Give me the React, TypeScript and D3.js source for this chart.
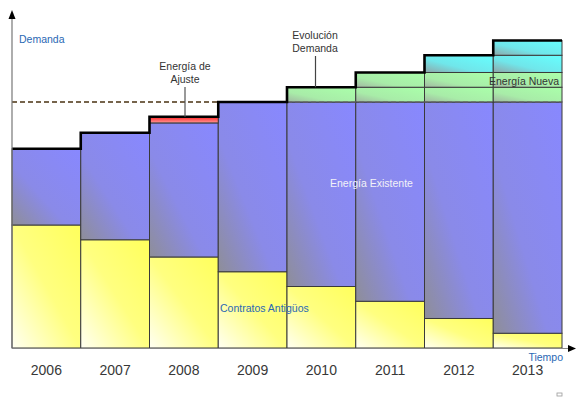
import React from 'react';
import * as d3 from 'd3';

// Datos (unidades relativas, 100 = nivel de energía existente)
const years = ['2006', '2007', '2008', '2009', '2010', '2011', '2012', '2013'];
const contratosAntiguos = [50, 44, 37, 31, 25, 19, 12, 6];
const energiaExistente = [31, 43.5, 54.5, 69, 75, 81, 88, 94];
const energiaAjuste = [0, 0, 2.5, 0, 0, 0, 0, 0];
const nuevaVerde1 = [0, 0, 0, 0, 6, 6, 6, 6];
const nuevaVerde2 = [0, 0, 0, 0, 0, 6, 6, 6];
const nuevaCian1 = [0, 0, 0, 0, 0, 0, 7, 7];
const nuevaCian2 = [0, 0, 0, 0, 0, 0, 0, 6];
const nivelExistente = 100;

const keys = ['contratos', 'existente', 'ajuste', 'verde1', 'verde2', 'cian1', 'cian2'];
const fills: Record<string, string> = {
  contratos: 'url(#g-yellow)',
  existente: 'url(#g-blue)',
  ajuste: 'url(#g-red)',
  verde1: 'url(#g-green)',
  verde2: 'url(#g-green)',
  cian1: 'url(#g-cyan)',
  cian2: 'url(#g-cyan)',
};

const W = 576;
const H = 399;
const left = 12;
const right = 562;
const bottom = 348;

const App = () => {
  const table = years.map((year, i) => ({
    year,
    contratos: contratosAntiguos[i],
    existente: energiaExistente[i],
    ajuste: energiaAjuste[i],
    verde1: nuevaVerde1[i],
    verde2: nuevaVerde2[i],
    cian1: nuevaCian1[i],
    cian2: nuevaCian2[i],
  }));
  const series = d3.stack<any>().keys(keys)(table);

  const x = d3.scaleBand().domain(years).range([left, right]).padding(0);
  const y = d3.scaleLinear().domain([0, 100]).range([bottom, 102]);

  const demanda = table.map((d) => keys.reduce((s, k) => s + (d as any)[k], 0));
  const pts: [number, number][] = years.map((yr, i) => [x(yr)!, y(demanda[i])]);
  pts.push([right, y(demanda[demanda.length - 1])]);
  const stepLine = d3.line().curve(d3.curveStepAfter)(pts) || '';

  const font = '"Liberation Sans", Arial, sans-serif';
  const blueText = '#2a68b4';

  return (
    <div style={{ position: 'fixed', left: 0, top: 0 }}>
      <svg width={W} height={H} style={{ display: 'block', background: '#fff' }}>
        <defs>
          <linearGradient id="g-blue" x1="0" y1="1" x2="1" y2="0">
            <stop offset="0%" stopColor="#8e8e98" />
            <stop offset="40%" stopColor="#8a8ae8" />
            <stop offset="100%" stopColor="#8888ff" />
          </linearGradient>
          <linearGradient id="g-yellow" x1="0" y1="1" x2="1" y2="0">
            <stop offset="0%" stopColor="#fffff2" />
            <stop offset="50%" stopColor="#ffff80" />
            <stop offset="100%" stopColor="#ffff5c" />
          </linearGradient>
          <linearGradient id="g-green" x1="0" y1="1" x2="1" y2="0">
            <stop offset="0%" stopColor="#a2b8a2" />
            <stop offset="35%" stopColor="#a8eca8" />
            <stop offset="100%" stopColor="#aaffaa" />
          </linearGradient>
          <linearGradient id="g-cyan" x1="0" y1="1" x2="1" y2="0">
            <stop offset="0%" stopColor="#8fa6a8" />
            <stop offset="40%" stopColor="#70e6ea" />
            <stop offset="100%" stopColor="#66ffff" />
          </linearGradient>
          <linearGradient id="g-red" x1="0" y1="0" x2="0" y2="1">
            <stop offset="0%" stopColor="#ff2020" />
            <stop offset="100%" stopColor="#ff9a9a" />
          </linearGradient>
        </defs>

        {series.map((s) =>
          s.map((d, i) =>
            d[1] - d[0] > 0 ? (
              <rect
                key={s.key + i}
                x={x(years[i])}
                y={y(d[1])}
                width={x.bandwidth()}
                height={y(d[0]) - y(d[1])}
                fill={fills[s.key]}
                stroke="#3a3a3a"
                strokeWidth={1}
              />
            ) : null
          )
        )}

        {/* nivel de energía existente */}
        <line x1={left} x2={x('2010')} y1={y(nivelExistente)} y2={y(nivelExistente)}
          stroke="#4a3212" strokeWidth={1.4} strokeDasharray="5,3" />
        <line x1={x('2010')} x2={right} y1={y(nivelExistente)} y2={y(nivelExistente)}
          stroke="#666" strokeWidth={1} strokeDasharray="5,3" />

        {/* evolución de la demanda */}
        <path d={stepLine} fill="none" stroke="#000" strokeWidth={2.6} />

        {/* ejes */}
        <line x1={left} x2={left} y1={bottom} y2={18} stroke="#777" strokeWidth={1.2} />
        <path d={`M${left},10 L${left - 3.5},19 L${left + 3.5},19 Z`} fill="#000" />
        <line x1={left} x2={570} y1={bottom + 0.5} y2={bottom + 0.5} stroke="#888" strokeWidth={1.2} />
        <path d={`M576,${bottom + 0.5} L568,${bottom - 3} L568,${bottom + 4} Z`} fill="#000" />

        {years.map((yr) => (
          <text key={yr} x={x(yr)! + x.bandwidth() / 2} y={375} textAnchor="middle"
            fontFamily={font} fontSize={14} fill="#383838">{yr}</text>
        ))}

        <text x={19} y={43} fontFamily={font} fontSize={10.5} fill={blueText}>Demanda</text>
        <text x={563} y={361} textAnchor="end" fontFamily={font} fontSize={10.5} fill={blueText}>Tiempo</text>

        {/* anotaciones */}
        <text x={185} y={70} textAnchor="middle" fontFamily={font} fontSize={10.5} fill="#333">Energía de</text>
        <text x={185} y={83} textAnchor="middle" fontFamily={font} fontSize={10.5} fill="#333">Ajuste</text>
        <line x1={185} x2={185} y1={87} y2={y(demanda[2])} stroke="#555" strokeWidth={1.2} />

        <text x={315} y={39} textAnchor="middle" fontFamily={font} fontSize={10.5} fill="#333">Evolución</text>
        <text x={315} y={52} textAnchor="middle" fontFamily={font} fontSize={10.5} fill="#333">Demanda</text>
        <line x1={315.5} x2={315.5} y1={56} y2={y(demanda[4])} stroke="#444" strokeWidth={1.2} />

        <text x={559} y={85} textAnchor="end" fontFamily={font} fontSize={10.5} fill="#333">Energía Nueva</text>
        <text x={330} y={187} fontFamily={font} fontSize={10.5} fill="#f2f2f8">Energía Existente</text>
        <text x={220} y={312} fontFamily={font} fontSize={10.5} fill={blueText}>Contratos Antigüos</text>

        <rect x={557} y={393} width={5} height={3} fill="none" stroke="#999" strokeWidth={0.8} />
      </svg>
    </div>
  );
};

export default App;
